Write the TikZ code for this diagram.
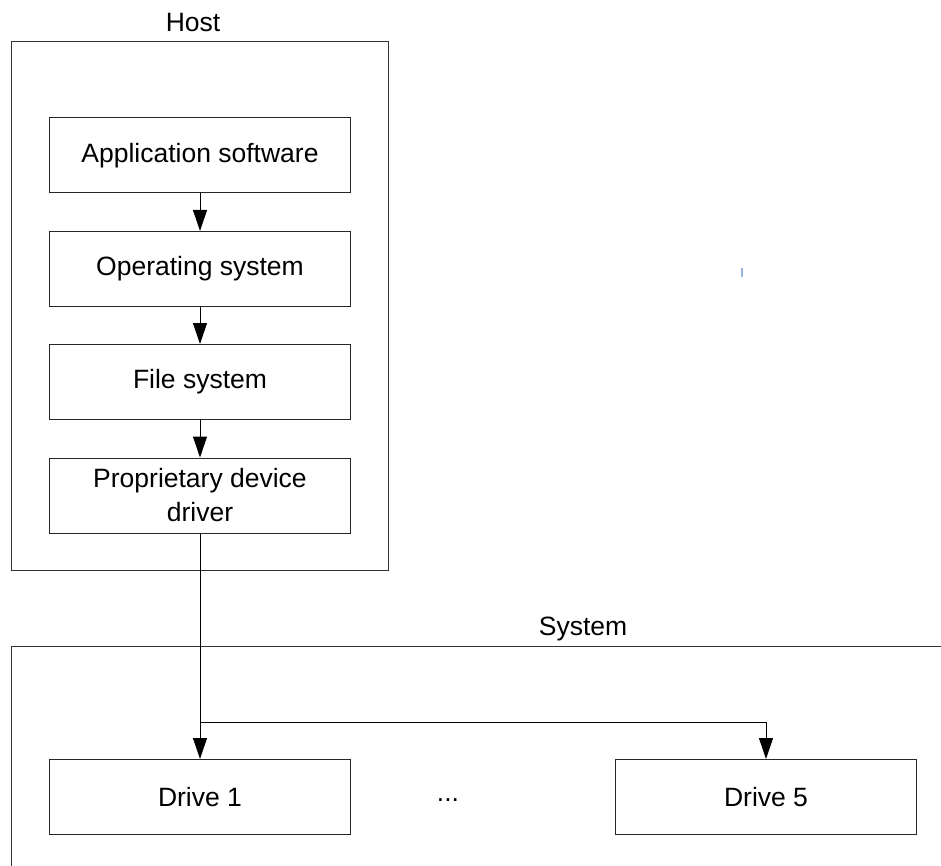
\documentclass[tikz,border=0pt]{standalone}
\usepackage{fontspec}
\setmainfont{Liberation Sans}
\usetikzlibrary{arrows.meta}
\begin{document}
\begin{tikzpicture}[x=1pt,y=-1pt,
  every node/.style={font=\fontsize{26.5}{34}\selectfont},
  layer/.style={draw=black!85,line width=1pt,minimum width=301pt,minimum height=75pt,inner sep=0pt,align=center},
  frame/.style={draw=black!80,line width=1pt},
  link/.style={draw=black,line width=1pt,-{Triangle[length=21pt,width=14pt]}}]
  \useasboundingbox (0,0) rectangle (941,866);

  % host enclosure
  \draw[frame] (11,42) rectangle (388,570);
  \node (hostlbl) at (193,23) {Host};

  % software stack
  \node[layer] (app) at (200,155.5) {Application software};
  \node[layer] (os)  at (200,269)   {Operating system};
  \node[layer] (fs)  at (200,382)   {File system};
  \node[layer] (pdd) at (200,495.5) {Proprietary device\\driver};

  \draw[link] (app) -- (os);
  \draw[link] (os) -- (fs);
  \draw[link] (fs) -- (pdd);

  % system enclosure (open to the right and bottom)
  \draw[frame] (941,646) -- (11,646) -- (11,866);
  \node (syslbl) at (583,629) {System};

  % drives
  \node[layer] (d1) at (200,797) {Drive 1};
  \node[layer] (d5) at (766,797) {Drive 5};
  \node (dots) at (448,800) {...};

  \coordinate (br) at (200,722);
  \draw[link] (pdd) -- (d1);
  \draw[link] (br) -| (d5.north);

  % small blue tick
  \draw[draw={rgb,255:red,150;green,180;blue,225},line width=1.5pt] (742,268) -- (742,277);
\end{tikzpicture}
\end{document}
